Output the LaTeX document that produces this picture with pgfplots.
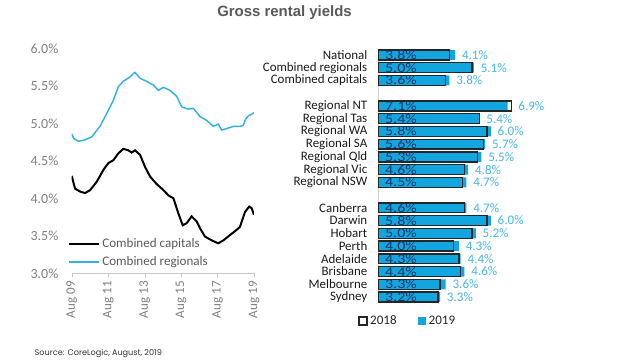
\documentclass[border=0pt]{standalone}
\usepackage{pgfplots}
\pgfplotsset{compat=1.18}
\usepackage{pgfplotstable}
\usepackage{fontspec}
\setmainfont{Carlito}
\newfontfamily\titlefont{Liberation Sans}
\newfontfamily\srcfont{Poppins}
\definecolor{barblue}{HTML}{12A6E0}
\definecolor{lineblue}{HTML}{2FB2E6}
\definecolor{lblblue}{HTML}{45B6E6}
\definecolor{navy}{HTML}{1F3560}
\definecolor{txtgray}{HTML}{595959}
\definecolor{tickgray}{HTML}{7F7F7F}

\pgfplotstableread{
t v
0 4.86
0.10 4.80
0.37 4.76
0.73 4.78
1.10 4.82
1.55 4.96
1.92 5.13
2.29 5.31
2.56 5.49
2.83 5.56
3.20 5.62
3.47 5.68
3.75 5.60
4.11 5.56
4.48 5.51
4.75 5.44
5.03 5.48
5.39 5.44
5.76 5.36
6.03 5.22
6.40 5.19
6.67 5.20
7.04 5.09
7.40 5.04
7.77 4.96
8.04 4.99
8.23 4.91
8.50 4.93
8.87 4.96
9.23 4.96
9.40 4.97
9.55 5.06
9.70 5.10
9.85 5.12
10 5.14
}\regionals

\pgfplotstableread{
t v
0 4.30
0.18 4.13
0.46 4.09
0.73 4.07
1.01 4.11
1.37 4.22
1.74 4.38
2.01 4.47
2.29 4.51
2.56 4.60
2.83 4.66
3.11 4.64
3.29 4.61
3.47 4.64
3.75 4.58
4.02 4.42
4.30 4.29
4.66 4.19
5.03 4.11
5.30 4.04
5.58 4.00
5.85 3.80
6.09 3.64
6.31 3.67
6.58 3.76
6.86 3.69
7.04 3.60
7.31 3.49
7.68 3.44
8.04 3.40
8.32 3.44
8.68 3.51
9.05 3.58
9.23 3.62
9.51 3.82
9.74 3.89
9.87 3.87
10 3.78
}\capitals

\pgfplotstableread{
row y18 y19 mx z
1 3.8 4.1 4.1 0
2 5.0 5.1 5.1 0
3 3.6 3.8 3.8 0
5 7.1 6.9 7.1 0
6 5.4 5.4 5.4 0
7 5.8 6.0 6.0 0
8 5.6 5.7 5.7 0
9 5.3 5.5 5.5 0
10 4.6 4.8 4.8 0
11 4.5 4.7 4.7 0
13 4.6 4.7 4.7 0
14 5.8 6.0 6.0 0
15 5.0 5.2 5.2 0
16 4.0 4.3 4.3 0
17 4.3 4.4 4.4 0
18 4.4 4.6 4.6 0
19 3.3 3.6 3.6 0
20 3.2 3.3 3.3 0
}\bars

\begin{document}
\begin{tikzpicture}
\path[use as bounding box] (0,0) rectangle (480pt,270pt);

\node[font=\titlefont\bfseries\fontsize{11.2}{13}\selectfont, text=txtgray] at (213.4pt,260.2pt) {Gross rental yields};
\node[font=\srcfont\fontsize{6.1}{7}\selectfont, text=black!80, anchor=west] at (22.5pt,4.5pt) {Source: CoreLogic, August, 2019};

% Left line chart
\begin{axis}[
  at={(53.8pt,65.0pt)}, anchor=south west,
  scale only axis, width=136.7pt, height=168.75pt,
  xmin=0, xmax=10, ymin=3.0, ymax=6.0,
  axis x line*=bottom, axis y line*=left,
  x axis line style={draw=gray!45, -},
  y axis line style={draw=none},
  xtick={0,2,4,6,8,10},
  xticklabels={Aug 09,Aug 11,Aug 13,Aug 15,Aug 17,Aug 19},
  xtick style={draw=gray!45},
  tick align=outside, major tick length=2.5pt,
  ytick={3.0,3.5,...,6.0},
  ytick style={draw=none},
  /pgf/number format/assume math mode=true,
  yticklabel={\pgfmathprintnumber[fixed,fixed zerofill,precision=1]{\tick}\%},
  yticklabel style={font=\fontsize{10.5}{12}\selectfont, text=tickgray, xshift=-4pt},
  xticklabel style={font=\fontsize{9.8}{11}\selectfont, text=tickgray, rotate=90, anchor=east},
  legend style={at={(-0.02,0.17)}, anchor=north west, draw=none, fill=none,
    font=\fontsize{9.8}{11}\selectfont, text=txtgray, row sep=1.2pt,
    inner sep=0pt},
  legend cell align=left,
]
\addplot[black, line width=1.5pt,
  legend image code/.code={\draw[black, line width=1.5pt] (0pt,0pt) -- (22pt,0pt);}]
  table[x=t,y=v] {\capitals};
\addlegendentry{Combined capitals}
\addplot[lineblue, line width=1.1pt,
  legend image code/.code={\draw[lineblue, line width=1.5pt] (0pt,0pt) -- (22pt,0pt);}]
  table[x=t,y=v] {\regionals};
\addlegendentry{Combined regionals}
\end{axis}

% Right bar chart
\begin{axis}[
  at={(283.5pt,42.45pt)}, anchor=south west,
  scale only axis, width=112.8pt, height=191.1pt,
  xmin=0, xmax=8, ymin=0.5, ymax=20.5, y dir=reverse,
  hide x axis,
  axis y line*=left,
  y axis line style={draw=gray!35, -},
  ytick={1,2,3,5,6,7,8,9,10,11,13,14,15,16,17,18,19,20},
  yticklabels={National,Combined regionals,Combined capitals,Regional NT,Regional Tas,Regional WA,Regional SA,Regional Qld,Regional Vic,Regional NSW,Canberra,Darwin,Hobart,Perth,Adelaide,Brisbane,Melbourne,Sydney},
  ytick style={draw=none},
  yticklabel style={font=\fontsize{9.7}{11}\selectfont, text=black!90, xshift=-4.5pt},
  legend style={at={(0.2,-0.069)}, anchor=center, draw=none, fill=none,
    legend columns=2, font=\fontsize{9.8}{11}\selectfont, text=black!85,
    /tikz/every even column/.append style={column sep=14pt}},
  reverse legend,
]
\addplot[xbar, bar shift=0pt, bar width=0.78, fill=barblue, draw=none,
  legend image code/.code={\fill[barblue] (0pt,-3pt) rectangle (6pt,3pt);}]
  table[x=y19,y=row] {\bars};
\addlegendentry{2019}
\addplot[xbar, bar shift=0pt, bar width=0.78, fill=none, draw=black!85, line width=1pt,
  legend image code/.code={\draw[black!85, line width=0.9pt, fill=white] (0pt,-3pt) rectangle (6pt,3pt);}]
  table[x=y18,y=row] {\bars};
\addlegendentry{2018}
\addplot[draw=none, forget plot, point meta=explicit,
  nodes near coords={\pgfmathprintnumber[fixed,fixed zerofill,precision=1]{\pgfplotspointmeta}\%},
  nodes near coords style={anchor=west, inner sep=0.5pt, xshift=4.5pt, xscale=1.2, font=\fontsize{10}{11}\selectfont, text=navy},
  /pgf/number format/assume math mode=true]
  table[x=z,y=row,meta=y18] {\bars};
\addplot[draw=none, forget plot, point meta=explicit,
  nodes near coords={\pgfmathprintnumber[fixed,fixed zerofill,precision=1]{\pgfplotspointmeta}\%},
  nodes near coords style={anchor=west, inner sep=0pt, xshift=5pt, font=\fontsize{9.8}{11}\selectfont, text=lblblue},
  /pgf/number format/assume math mode=true]
  table[x=mx,y=row,meta=y19] {\bars};
\end{axis}
\end{tikzpicture}
\end{document}
